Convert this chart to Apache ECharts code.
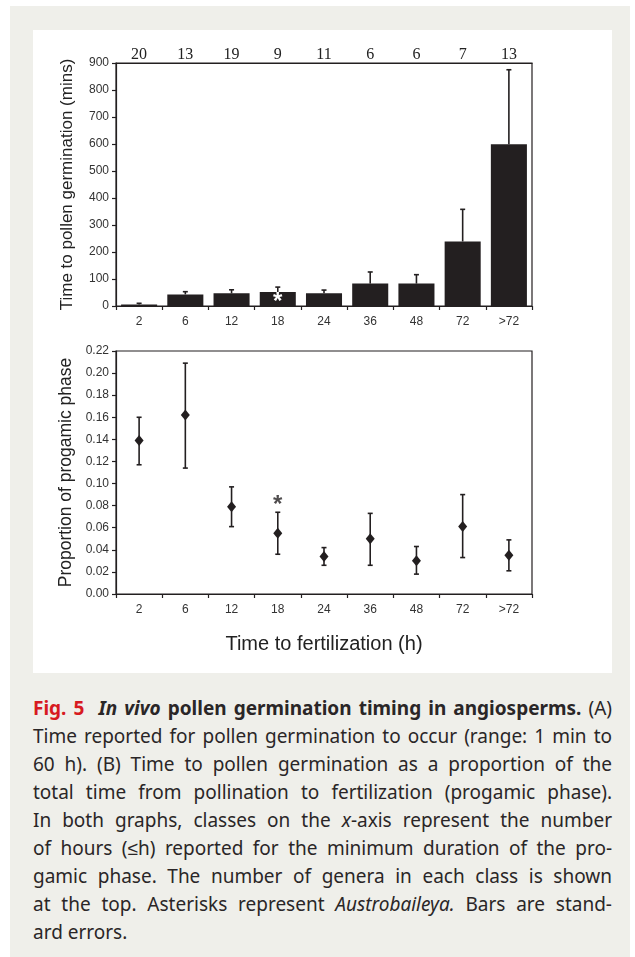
<!DOCTYPE html>
<html>
<head>
<meta charset="utf-8">
<script src="https://cdn.jsdelivr.net/npm/echarts@6/dist/echarts.min.js"></script>
<style>
  html, body { margin: 0; padding: 0; background: #fff; }
  body { width: 635px; height: 957px; position: relative; overflow: hidden; }
  .page { position: absolute; left: 10px; top: 6px; width: 620px; height: 951px; background: #efefea; }
  #chart { position: absolute; left: 33px; top: 30px; width: 579px; height: 643px; background: #fff; }
  .caption { position: absolute; left: 33px; top: 694px; width: 579px; font-family: "Noto Sans", sans-serif; font-size: 19px; letter-spacing: 0; line-height: 28px; color: #2a2627; }
  .caption div { white-space: nowrap; text-align: justify; text-align-last: justify; }
  .caption div.last { text-align-last: left; }
  .red { color: #d71a21; font-weight: bold; }
</style>
</head>
<body>
<div class="page"></div>
<div id="chart"></div>
<div class="caption">
  <div><span class="red">Fig. 5</span>&nbsp; <b><i>In vivo</i> pollen germination timing in angiosperms.</b> (A)</div>
  <div>Time reported for pollen germination to occur (range: 1 min to</div>
  <div>60 h). (B) Time to pollen germination as a proportion of the</div>
  <div>total time from pollination to fertilization (progamic phase).</div>
  <div>In both graphs, classes on the <i>x</i>-axis represent the number</div>
  <div>of hours (≤h) reported for the minimum duration of the pro-</div>
  <div>gamic phase. The number of genera in each class is shown</div>
  <div>at the top. Asterisks represent <i>Austrobaileya.</i> Bars are stand-</div>
  <div class="last">ard errors.</div>
</div>
<script>
// classes: minimum duration of progamic phase (h)
var categories = ['2', '6', '12', '18', '24', '36', '48', '72', '>72'];
var genusCounts = [20, 13, 19, 9, 11, 6, 6, 7, 13];
// (A) time to pollen germination, mins
var germMins = [6, 43, 47, 52, 47, 83, 83, 239, 599];
var germSE = [4, 10, 13, 18, 12, 43, 33, 119, 276];
// (B) proportion of progamic phase
var propMean = [0.139, 0.162, 0.079, 0.055, 0.034, 0.050, 0.030, 0.061, 0.035];
var propLow = [0.117, 0.114, 0.061, 0.036, 0.026, 0.026, 0.018, 0.033, 0.021];
var propHigh = [0.160, 0.209, 0.097, 0.074, 0.042, 0.073, 0.043, 0.090, 0.049];
var asteriskClass = '18';

var chart = echarts.init(document.getElementById('chart'));
var ink = '#231f20';
var axisFont = 'Liberation Sans, Arial, sans-serif';

function errBar(params, api, withLowCap) {
  var lo = api.coord([api.value(0), api.value(1)]);
  var hi = api.coord([api.value(0), api.value(2)]);
  var cw = 2.5;
  var style = { stroke: ink, lineWidth: 1.6 };
  var kids = [
    { type: 'line', shape: { x1: lo[0], y1: lo[1], x2: hi[0], y2: hi[1] }, style: style },
    { type: 'line', shape: { x1: hi[0] - cw, y1: hi[1], x2: hi[0] + cw, y2: hi[1] }, style: style }
  ];
  if (withLowCap) {
    kids.push({ type: 'line', shape: { x1: lo[0] - cw, y1: lo[1], x2: lo[0] + cw, y2: lo[1] }, style: style });
  }
  return { type: 'group', children: kids };
}

var barData = germMins.map(function (v, i) {
  if (categories[i] === asteriskClass) {
    return { value: v, label: { show: true, formatter: '*', position: 'insideBottom', distance: -8, color: '#fff', fontSize: 24, fontWeight: 'bold', fontFamily: axisFont } };
  }
  return v;
});

var axisLineStyle = { lineStyle: { color: ink, width: 1.2 } };
var tickStyle = { show: true, length: 4, lineStyle: { color: ink, width: 1.2 } };
var labelStyle = { color: '#333', fontSize: 12, fontFamily: axisFont };

var option = {
  animation: false,
  grid: [
    { left: 83, top: 33, width: 416, height: 243, show: true, borderColor: ink, borderWidth: 1.2, backgroundColor: 'transparent' },
    { left: 83, top: 321, width: 416, height: 243, show: true, borderColor: ink, borderWidth: 1.2, backgroundColor: 'transparent' }
  ],
  xAxis: [
    { type: 'category', gridIndex: 0, data: categories, position: 'bottom', axisLine: axisLineStyle, axisTick: tickStyle, axisLabel: Object.assign({ margin: 10 }, labelStyle) },
    { type: 'category', gridIndex: 0, data: genusCounts.map(String), position: 'top', axisLine: axisLineStyle, axisTick: { show: false },
      axisLabel: { margin: 0, color: '#222', fontSize: 16, fontFamily: 'Liberation Serif, Times New Roman, serif' } },
    { type: 'category', gridIndex: 1, data: categories, position: 'bottom', axisLine: axisLineStyle, axisTick: tickStyle, axisLabel: Object.assign({ margin: 10 }, labelStyle),
      name: 'Time to fertilization (h)', nameLocation: 'middle', nameGap: 40,
      nameTextStyle: { color: '#222', fontSize: 20, fontFamily: axisFont } }
  ],
  yAxis: [
    { type: 'value', gridIndex: 0, min: 0, max: 900, interval: 100, splitLine: { show: false },
      axisLine: Object.assign({ show: true }, axisLineStyle), axisTick: tickStyle, axisLabel: Object.assign({ margin: 7 }, labelStyle),
      name: 'Time to pollen germination (mins)', nameLocation: 'middle', nameGap: 40,
      nameTextStyle: { color: '#222', fontSize: 17, fontFamily: axisFont } },
    { type: 'value', gridIndex: 1, min: 0, max: 0.22, interval: 0.02, splitLine: { show: false },
      axisLine: Object.assign({ show: true }, axisLineStyle), axisTick: tickStyle,
      axisLabel: Object.assign({ margin: 7, formatter: function (v) { return v.toFixed(2); } }, labelStyle),
      name: 'Proportion of progamic phase', nameLocation: 'middle', nameGap: 40,
      nameTextStyle: { color: '#222', fontSize: 17.5, fontFamily: axisFont } }
  ],
  series: [
    { type: 'bar', xAxisIndex: 0, yAxisIndex: 0, data: barData, barWidth: '78%', itemStyle: { color: ink }, z: 2 },
    { type: 'custom', xAxisIndex: 0, yAxisIndex: 0, z: 3,
      data: germMins.map(function (v, i) { return [i, v, v + germSE[i]]; }),
      encode: { x: 0, y: [1, 2] },
      renderItem: function (params, api) { return errBar(params, api, false); } },
    { type: 'custom', xAxisIndex: 2, yAxisIndex: 1, z: 2,
      data: propMean.map(function (v, i) { return [i, propLow[i], propHigh[i]]; }),
      encode: { x: 0, y: [1, 2] },
      renderItem: function (params, api) { return errBar(params, api, true); } },
    { type: 'scatter', xAxisIndex: 2, yAxisIndex: 1, z: 4, symbol: 'diamond', symbolSize: [9, 11],
      itemStyle: { color: ink, opacity: 1 },
      data: propMean.map(function (v, i) { return [i, v]; }) },
    { type: 'scatter', xAxisIndex: 2, yAxisIndex: 1, z: 4, symbolSize: 0,
      data: [[categories.indexOf(asteriskClass), propHigh[categories.indexOf(asteriskClass)]]],
      label: { show: true, formatter: '*', position: 'top', distance: -5, color: ink, fontSize: 24, fontWeight: 'bold', fontFamily: axisFont } }
  ]
};
chart.setOption(option);
</script>
</body>
</html>
